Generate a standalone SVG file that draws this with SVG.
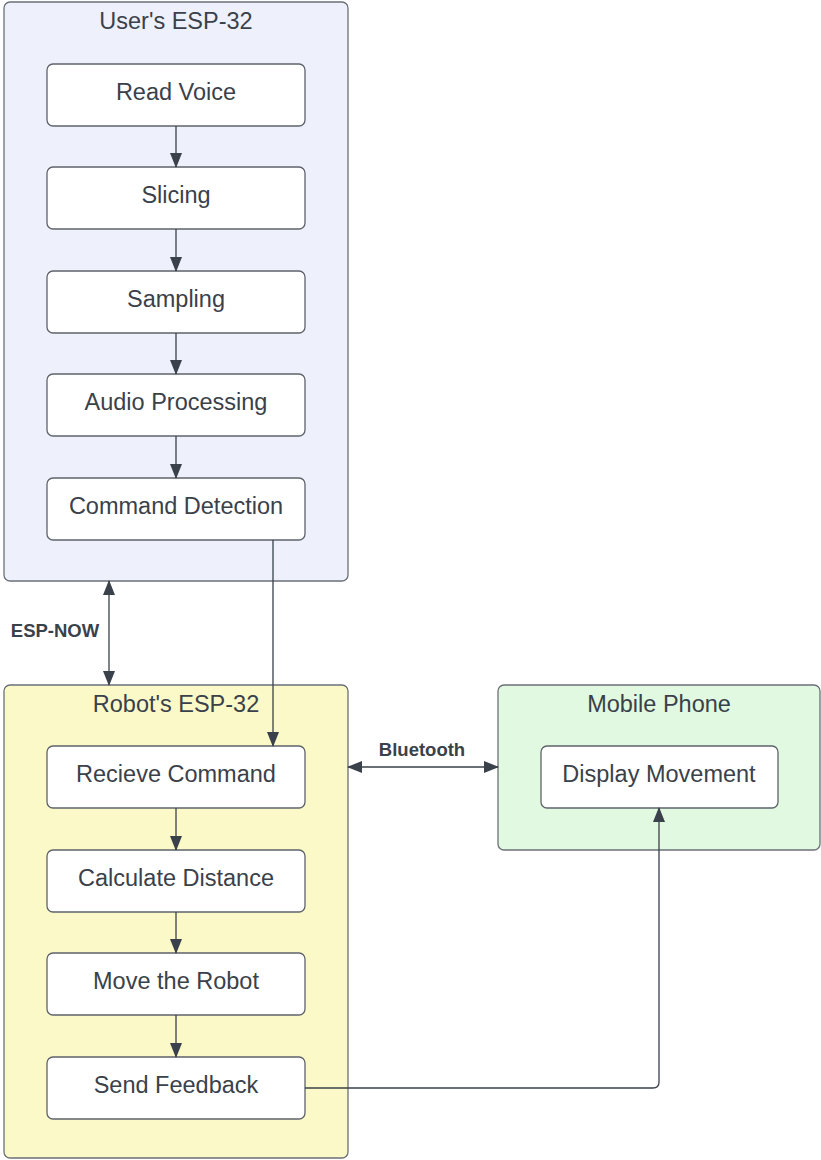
<svg xmlns="http://www.w3.org/2000/svg" width="821" height="1160" viewBox="0 0 821 1160">
<defs>
<marker id="ah" viewBox="0 0 15 12" refX="14" refY="6" markerWidth="15" markerHeight="12" markerUnits="userSpaceOnUse" orient="auto-start-reverse">
<path d="M0,0 L15,6 L0,12 Z" fill="#3a414a"/>
</marker>
<style>
.cont{stroke:#6b7078;stroke-width:1.3}
.box{fill:#ffffff;stroke:#5e636b;stroke-width:1.3}
.t{font-family:"Liberation Sans",Arial,sans-serif;font-size:23.5px;fill:#3a414a;text-anchor:middle}
.b{font-family:"Liberation Sans",Arial,sans-serif;font-size:18.5px;font-weight:bold;fill:#3a414a;text-anchor:middle}
.c{fill:none;stroke:#3a414a;stroke-width:1.3}
</style>
</defs>
<rect width="821" height="1160" fill="#ffffff"/>
<g id="users-esp32">
<rect class="cont" x="4" y="2" width="344" height="579" rx="6" fill="#eef1fc"/>
<text class="t" x="176" y="29">User's ESP-32</text>
</g>
<g id="robots-esp32">
<rect class="cont" x="4" y="685" width="344" height="473" rx="6" fill="#fcf9c8"/>
<text class="t" x="176" y="712">Robot's ESP-32</text>
</g>
<g id="mobile-phone">
<rect class="cont" x="498" y="685" width="322" height="165" rx="6" fill="#e1f9e0"/>
<text class="t" x="659" y="712">Mobile Phone</text>
</g>
<g id="read-voice"><rect class="box" x="47" y="64" width="258" height="62" rx="6"/><text class="t" x="176" y="100">Read Voice</text></g>
<g id="slicing"><rect class="box" x="47" y="167" width="258" height="62" rx="6"/><text class="t" x="176" y="203">Slicing</text></g>
<g id="sampling"><rect class="box" x="47" y="271" width="258" height="62" rx="6"/><text class="t" x="176" y="307">Sampling</text></g>
<g id="audio-processing"><rect class="box" x="47" y="374" width="258" height="62" rx="6"/><text class="t" x="176" y="410">Audio Processing</text></g>
<g id="command-detection"><rect class="box" x="47" y="478" width="258" height="62" rx="6"/><text class="t" x="176" y="514">Command Detection</text></g>
<g id="recieve-command"><rect class="box" x="47" y="746" width="258" height="62" rx="6"/><text class="t" x="176" y="782">Recieve Command</text></g>
<g id="calculate-distance"><rect class="box" x="47" y="850" width="258" height="62" rx="6"/><text class="t" x="176" y="886">Calculate Distance</text></g>
<g id="move-the-robot"><rect class="box" x="47" y="953" width="258" height="62" rx="6"/><text class="t" x="176" y="989">Move the Robot</text></g>
<g id="send-feedback"><rect class="box" x="47" y="1057" width="258" height="62" rx="6"/><text class="t" x="176" y="1093">Send Feedback</text></g>
<g id="display-movement"><rect class="box" x="541" y="746" width="237" height="62" rx="6"/><text class="t" x="659" y="782">Display Movement</text></g>
<g id="connectors">
<line class="c" x1="176" y1="126" x2="176" y2="167" marker-end="url(#ah)"/>
<line class="c" x1="176" y1="229" x2="176" y2="271" marker-end="url(#ah)"/>
<line class="c" x1="176" y1="333" x2="176" y2="374" marker-end="url(#ah)"/>
<line class="c" x1="176" y1="436" x2="176" y2="478" marker-end="url(#ah)"/>
<line class="c" x1="273" y1="540" x2="273" y2="746" marker-end="url(#ah)"/>
<line class="c" x1="176" y1="808" x2="176" y2="850" marker-end="url(#ah)"/>
<line class="c" x1="176" y1="912" x2="176" y2="953" marker-end="url(#ah)"/>
<line class="c" x1="176" y1="1015" x2="176" y2="1057" marker-end="url(#ah)"/>
<line class="c" x1="109" y1="581" x2="109" y2="685" marker-start="url(#ah)" marker-end="url(#ah)"/>
<text class="b" x="55" y="637">ESP-NOW</text>
<line class="c" x1="348" y1="767" x2="498" y2="767" marker-start="url(#ah)" marker-end="url(#ah)"/>
<text class="b" x="422" y="756">Bluetooth</text>
<path class="c" d="M305,1088 H653 Q659,1088 659,1082 V808" marker-end="url(#ah)"/>
</g>
</svg>
